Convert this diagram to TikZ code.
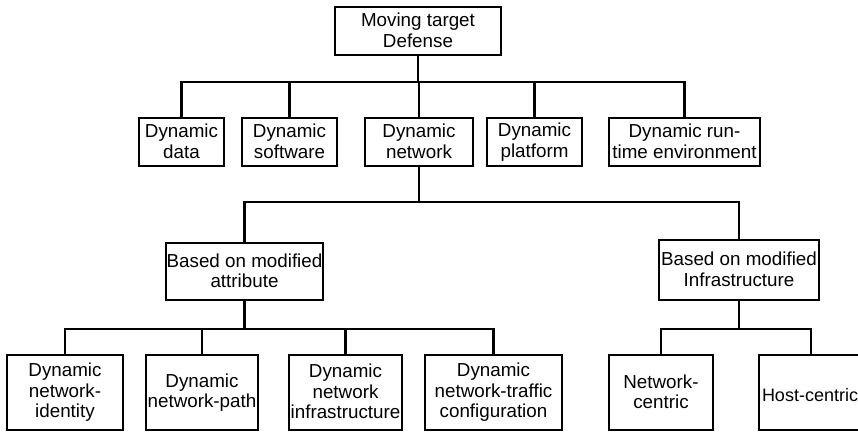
\documentclass[tikz,border=0pt]{standalone}
\usepackage{fontspec}
\setmainfont{Liberation Sans}
% invisible rule that fixes the height and depth of a label's first and last line
\newcommand\boxstrut{\rule[-2pt]{0pt}{21pt}}
\begin{document}
\begin{tikzpicture}[x=1pt,y=-1pt,
  box/.style={draw, line width=1.3pt, inner sep=0pt, align=center,
    font=\fontsize{18.8}{20.6}\selectfont,
    execute at begin node=\boxstrut, execute at end node=\boxstrut},
  link/.style={line width=2.2pt}]
\useasboundingbox (0,0) rectangle (858,432);

% root
\node[box, minimum width=166, minimum height=48] (mtd) at (418,31) {Moving target\\Defense};

% second level
\node[box, minimum width=85,  minimum height=48] (dd) at (181.5,142) {Dynamic\\data};
\node[box, minimum width=95,  minimum height=48] (ds) at (289.5,142) {Dynamic\\software};
\node[box, minimum width=108, minimum height=48] (dn) at (419,142) {Dynamic\\network};
\node[box, minimum width=95,  minimum height=48] (dp) at (534.5,142) {Dynamic\\platform};
\node[box, minimum width=151, minimum height=48] (dr) at (684.5,142) {Dynamic run-\\time environment};

% third level
\node[box, minimum width=157, minimum height=57] (ba) at (244.5,271.5) {Based on modified\\attribute};
\node[box, minimum width=160, minimum height=60] (bi) at (739,270) {Based on modified\\Infrastructure};

% fourth level
\node[box, minimum width=116, minimum height=75] (ni) at (65,392.5) {Dynamic\\network-\\identity};
\node[box, minimum width=112, minimum height=75] (np) at (202,392.5) {Dynamic\\network-path};
\node[box, minimum width=113, minimum height=75] (nf) at (345.5,392.5) {Dynamic\\network\\infrastructure};
\node[box, minimum width=137, minimum height=75] (nt) at (493.5,392.5) {Dynamic\\network-traffic\\configuration};
\node[box, minimum width=104, minimum height=75] (nc) at (661,392.5) {Network-\\centric};
\node[box, minimum width=104, minimum height=75, font=\fontsize{18}{20.6}\selectfont] (hc) at (811,392.5) {Host-centric\hspace{2pt}};

% connectors
\foreach \c in {dd,ds,dn,dp,dr}
  \draw[link] (mtd.south) -- ++(0,26) -| (\c.north);
\foreach \c in {ba,bi}
  \draw[link] (dn.south) -- ++(0,35) -| (\c.north);
\foreach \c in {ni,np,nf,nt}
  \draw[link] (ba.south) -- ++(0,28) -| (\c.north);
\foreach \c in {nc,hc}
  \draw[link] (bi.south) -- ++(0,28) -| (\c.north);
\end{tikzpicture}
\end{document}
